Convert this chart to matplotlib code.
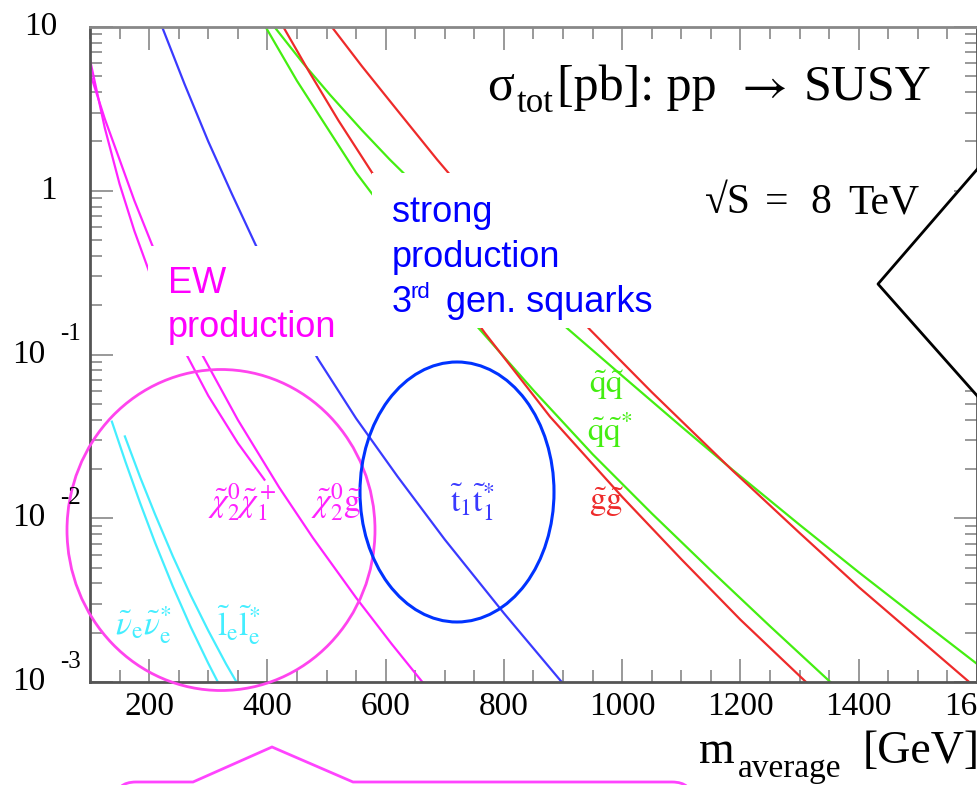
import numpy as np
import matplotlib
matplotlib.use('Agg')
import matplotlib.pyplot as plt
from matplotlib.ticker import MultipleLocator, LogLocator, NullFormatter, FixedLocator
from matplotlib.patches import Ellipse, Rectangle, Polygon, PathPatch
from matplotlib.path import Path
import matplotlib.transforms as mtrans

plt.rcParams['mathtext.fontset'] = 'stix'
plt.rcParams['font.family'] = ['Liberation Serif', 'DejaVu Serif']

# ---------------- data (mass [GeV], sigma [pb]) ----------------
m_chi2chi1 = [100, 125, 150, 175, 200, 250, 300, 350, 395]
s_chi2chi1 = [6.31, 2.42, 1.10, 0.569, 0.321, 0.123, 0.056, 0.0288, 0.0172]

m_chi2gl = [100, 125, 150, 175, 205, 250, 290, 350, 420, 477, 550, 610, 665]
s_chi2gl = [5.25, 2.75, 1.55, 0.871, 0.467, 0.200, 0.0993, 0.0399, 0.0154,
            0.00759, 0.00327, 0.00171, 0.00097]

m_snu = [137, 160, 185, 210, 240, 270, 300, 320]
s_snu = [0.0389, 0.0221, 0.01233, 0.0071, 0.00384, 0.00218, 0.0013, 0.00094]

m_slep = [159, 185, 210, 240, 270, 300, 330, 352]
s_slep = [0.0316, 0.01774, 0.01057, 0.00587, 0.0034, 0.00206, 0.00129, 0.00094]

m_stop = [222, 260, 300, 340, 380, 430, 486, 550, 620, 700, 800, 905]
s_stop = [10.0, 4.47, 2.0, 0.955, 0.468, 0.209, 0.0933, 0.0407, 0.0180,
          0.00741, 0.00263, 0.00093]

m_sqsq_a = [397, 450, 550, 650, 750, 850, 950, 1050, 1150, 1250, 1360]
s_sqsq_a = [10.0, 4.69, 1.29, 0.428, 0.155, 0.0604, 0.0246, 0.0107, 0.0048,
            0.00219, 0.00094]

m_glgl_a = [427, 470, 520, 577, 650, 768, 878, 1000, 1100, 1200, 1320]
s_glgl_a = [10.0, 5.37, 2.69, 1.29, 0.525, 0.135, 0.0417, 0.0135, 0.00562,
            0.0024, 0.00093]

m_sqsq_b = [412, 460, 506, 560, 607, 700, 800, 907, 1000, 1100, 1187, 1300,
            1400, 1500, 1600]
s_sqsq_b = [10.0, 6.03, 3.85, 2.34, 1.55, 0.724, 0.331, 0.1445, 0.0741,
            0.0363, 0.0197, 0.00912, 0.00468, 0.00245, 0.00129]

m_glgl_b = [509, 560, 620, 687, 760, 850, 946, 1050, 1187, 1300, 1400, 1500,
            1600]
s_glgl_b = [10.0, 5.75, 3.09, 1.55, 0.759, 0.331, 0.1413, 0.0589, 0.0195,
            0.00813, 0.0038, 0.00186, 0.00091]

xticks = [200, 400, 600, 800, 1000, 1200, 1400, 1600]
xticklabels = ['200', '400', '600', '800', '1000', '1200', '1400', '1600']
ytick_vals = [1e-3, 1e-2, 1e-1, 1, 10]
ytick_base = ['10', '10', '10', '1', '10']
ytick_exp = ['-3', '-2', '-1', '', '']

MAG = '#ff22ff'
CYA = '#44eeff'
BLU = '#3a3aff'
GRN = '#44ee11'
RED = '#ee2a2a'

# ---------------- figure ----------------
W, H = 978, 785
fig = plt.figure(figsize=(W / 100, H / 100), dpi=100)
ax = fig.add_axes([90 / W, (H - 682) / H, 887 / W, 655 / H])
ax.set_xlim(100, 1600)
ax.set_yscale('log')
ax.set_ylim(1e-3, 10)

lw = 1.6
ax.plot(m_chi2chi1, s_chi2chi1, color=MAG, lw=lw)
ax.plot(m_chi2gl, s_chi2gl, color=MAG, lw=lw)
ax.plot(m_snu, s_snu, color=CYA, lw=lw)
ax.plot(m_slep, s_slep, color=CYA, lw=lw)
ax.plot(m_stop, s_stop, color=BLU, lw=lw)
ax.plot(m_sqsq_a, s_sqsq_a, color=GRN, lw=lw)
ax.plot(m_sqsq_b, s_sqsq_b, color=GRN, lw=lw)
ax.plot(m_glgl_a, s_glgl_a, color=RED, lw=lw)
ax.plot(m_glgl_b, s_glgl_b, color=RED, lw=lw)

ax.set_xticks(xticks)
ax.set_xticklabels(xticklabels, fontsize=24)
ax.xaxis.set_minor_locator(MultipleLocator(50))
ax.yaxis.set_major_locator(FixedLocator(ytick_vals))
ax.yaxis.set_minor_locator(LogLocator(base=10, subs=np.arange(2, 10)))
ax.yaxis.set_major_formatter(NullFormatter())
ax.yaxis.set_minor_formatter(NullFormatter())
ax.tick_params(which='both', direction='in', top=True, right=True,
               color='#888888', labelcolor='black')
ax.tick_params(which='major', length=16.5, width=1.2)
ax.tick_params(which='minor', length=8.5, width=1.2)
ax.tick_params(axis='x', which='major', pad=7)
for s in ax.spines.values():
    s.set_color('#555555')
    s.set_linewidth(2)
ax.spines['top'].set_color('#888888')

# ---------------- overlay (annotations in pixel coords) ----------------
ov = fig.add_axes([0, 0, 1, 1], zorder=10)
ov.set_xlim(0, W)
ov.set_ylim(H, 0)
ov.axis('off')
ov.patch.set_alpha(0)

# y tick labels (ROOT style)
bl = mtrans.blended_transform_factory(ov.transData, ax.transData)
bl_up = mtrans.offset_copy(bl, fig=fig, x=0, y=20, units='dots')
for v, b, e in zip(ytick_vals, ytick_base, ytick_exp):
    if e:
        ov.text(45, v, b, transform=bl, ha='right', va='center', fontsize=24)
        ov.text(60, v, e, transform=bl_up, ha='left', va='center', fontsize=18)
    else:
        ov.text(57, v, b, transform=bl, ha='right', va='center', fontsize=24)

# white boxes behind annotation texts
ov.add_patch(Rectangle((148, 246), 372 - 148, 356 - 246, fc='white', ec='none'))
ov.add_patch(Rectangle((372, 173), 670 - 372, 328 - 173, fc='white', ec='none'))

sans = ['Liberation Sans', 'DejaVu Sans']
ov.text(168, 293, 'EW', color='#ff00ff', fontsize=26, family=sans, va='baseline')
ov.text(168, 337, 'production', color='#ff00ff', fontsize=26, family=sans, va='baseline')
ov.text(392, 222, 'strong', color='#0000ff', fontsize=26, family=sans, va='baseline')
ov.text(392, 267, 'production', color='#0000ff', fontsize=26, family=sans, va='baseline')
ov.text(392, 312, '3', color='#0000ff', fontsize=26, family=sans, va='baseline')
ov.text(411, 298, 'rd', color='#0000ff', fontsize=16, family=sans, va='baseline')
ov.text(446, 312, 'gen. squarks', color='#0000ff', fontsize=26, family=sans,
        va='baseline')

# title texts
ov.text(487, 100, '\u03c3', fontsize=36, ha='left', va='baseline')
ov.text(517, 112, 'tot', fontsize=25, ha='left', va='baseline')
ov.text(557, 100, '[pb]: pp', fontsize=36, ha='left', va='baseline')
ov.text(734, 100, r'$\rightarrow$', fontsize=36, ha='left', va='baseline')
ov.text(804, 100, 'SUSY', fontsize=36, ha='left', va='baseline')
ov.text(705, 213, '\u221aS', fontsize=30, ha='left', va='baseline')
ov.text(765, 213, '=', fontsize=30, ha='left', va='baseline')
ov.text(810, 213, '8', fontsize=30, ha='left', va='baseline')
ov.text(848, 213, 'TeV', fontsize=30, ha='left', va='baseline')

# x axis title
ov.text(699, 763, 'm', fontsize=33, ha='left', va='baseline')
ov.text(738, 777, 'average', fontsize=24, ha='left', va='baseline')
ov.text(863, 763, '[GeV]', fontsize=33, ha='left', va='baseline')

# curve labels
lab_fs = 24
ov.text(606, 385, r'$\tilde{\mathrm{q}}\tilde{\mathrm{q}}$', color=GRN, fontsize=lab_fs, ha='center', va='center')
ov.text(610, 430, r'$\tilde{\mathrm{q}}\tilde{\mathrm{q}}^{*}$', color=GRN, fontsize=lab_fs, ha='center', va='center')
ov.text(606, 502, r'$\tilde{\mathrm{g}}\tilde{\mathrm{g}}$', color=RED, fontsize=lab_fs, ha='center', va='center')
ov.text(472, 502, r'$\tilde{\mathrm{t}}_1\tilde{\mathrm{t}}_1^{*}$', color=BLU, fontsize=lab_fs, ha='center', va='center')
ov.text(242, 502, r'$\tilde{\chi}_2^0\tilde{\chi}_1^+$', color=MAG, fontsize=lab_fs, ha='center', va='center')
ov.text(336, 502, r'$\tilde{\chi}_2^0\tilde{\mathrm{g}}$', color=MAG, fontsize=lab_fs, ha='center', va='center')
ov.text(143, 625, r'$\tilde{\nu}_{\mathrm{e}}\tilde{\nu}_{\mathrm{e}}^{*}$', color=CYA, fontsize=lab_fs, ha='center', va='center')
ov.text(239, 625, r'$\tilde{\mathrm{l}}_{\mathrm{e}}\tilde{\mathrm{l}}_{\mathrm{e}}^{*}$', color=CYA, fontsize=lab_fs, ha='center', va='center')

# highlight ellipses
ov.add_patch(Ellipse((221, 530), 308, 321, fill=False, ec='#ff44ee', lw=2))
ov.add_patch(Ellipse((457, 492), 194, 260, fill=False, ec='#0033ff', lw=2.2))

# right black callout pointer
ov.add_patch(Polygon([(978, 168), (878, 284), (978, 397), (1010, 397), (1010, 168)],
                     closed=True, fc='white', ec='none', clip_on=False))
ov.plot([980, 878, 980], [166, 284, 399], color='black', lw=2)

# bottom magenta callout
verts = [(116, 800), (116, 782), (136, 782), (193, 782), (272, 747), (353, 782),
         (672, 782), (692, 782), (692, 800)]
codes = [Path.MOVETO, Path.CURVE3, Path.CURVE3, Path.LINETO, Path.LINETO,
         Path.LINETO, Path.LINETO, Path.CURVE3, Path.CURVE3]
ov.add_patch(PathPatch(Path(verts, codes), fill=False, ec='#ff44ff', lw=2))

fig.savefig('out.png', dpi=100)
